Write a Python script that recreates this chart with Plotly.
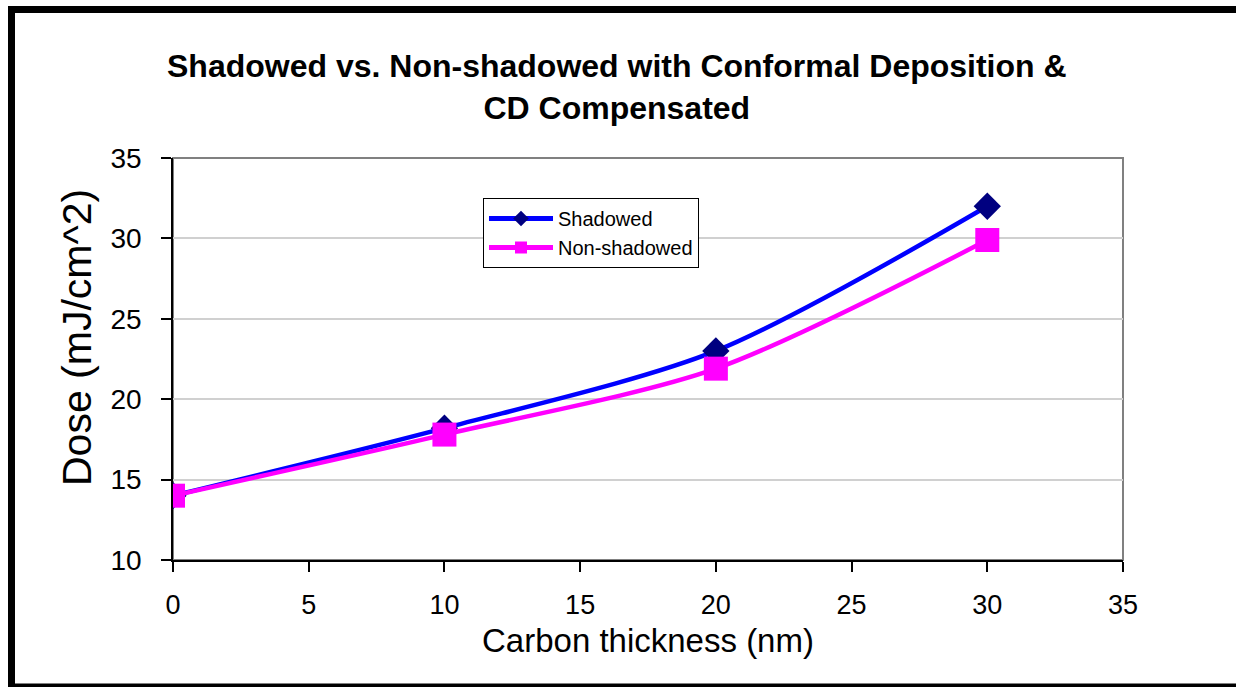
import plotly.graph_objects as go

# ---- data ----
thickness = [0, 10, 20, 30]
shadowed = [14.0, 18.2, 23.0, 32.0]
non_shadowed = [14.0, 17.8, 21.9, 29.9]
x_ticks = [0, 5, 10, 15, 20, 25, 30, 35]
y_ticks = [10, 15, 20, 25, 30, 35]

title_text = "Shadowed vs. Non-shadowed with Conformal Deposition &<br>CD Compensated"
x_title = "Carbon thickness (nm)"
y_title = "Dose (mJ/cm^2)"

W, H = 1236, 687
L, R, T, B = 173, 113, 158, 127
PW, PH = W - L - R, H - T - B
FONT = "Liberation Sans, Arial, Helvetica, sans-serif"


def px2x(px):
    return (px - L) / PW


def py2y(py):
    return (H - B - py) / PH


fig = go.Figure()
fig.add_trace(go.Scatter(
    x=thickness, y=shadowed, name="Shadowed", mode="lines+markers",
    line=dict(color="#0000FF", width=4.5, shape="spline", smoothing=0.8),
    marker=dict(symbol="diamond", size=21, color="#000080", line=dict(width=0)),
))
fig.add_trace(go.Scatter(
    x=thickness, y=non_shadowed, name="Non-shadowed", mode="lines+markers",
    line=dict(color="#FF00FF", width=4.5, shape="spline", smoothing=0.8),
    marker=dict(symbol="square", size=24, color="#FF00FF", line=dict(width=0)),
))

shapes = [
    # plot area border (gray)
    dict(type="rect", xref="paper", yref="paper", x0=0, x1=1, y0=0, y1=1,
         line=dict(color="#808080", width=2), layer="below"),
    # outer black frame
    dict(type="line", xref="paper", yref="paper", x0=px2x(11.5), x1=px2x(11.5),
         y0=py2y(6), y1=py2y(700), line=dict(color="black", width=7)),
    dict(type="line", xref="paper", yref="paper", x0=px2x(8), x1=px2x(1250),
         y0=py2y(9.5), y1=py2y(9.5), line=dict(color="black", width=7)),
    dict(type="line", xref="paper", yref="paper", x0=px2x(8), x1=px2x(1250),
         y0=py2y(687), y1=py2y(687), line=dict(color="black", width=7)),
]

annotations = [
    dict(text=title_text, xref="paper", yref="paper", x=px2x(617), y=py2y(46),
         xanchor="center", yanchor="top", showarrow=False,
         font=dict(family=FONT, size=32, color="black", weight="bold")),
    dict(text=x_title, xref="paper", yref="paper", x=px2x(648), y=py2y(640),
         xanchor="center", yanchor="middle", showarrow=False,
         font=dict(family=FONT, size=33, color="black")),
    dict(text=y_title, xref="paper", yref="paper", x=px2x(77), y=py2y(338),
         xanchor="center", yanchor="middle", showarrow=False, textangle=-90,
         font=dict(family=FONT, size=41, color="black")),
]

fig.update_layout(
    width=W, height=H,
    margin=dict(l=L, r=R, t=T, b=B, pad=0),
    paper_bgcolor="white", plot_bgcolor="white",
    font=dict(family=FONT, color="black"),
    showlegend=True,
    legend=dict(x=px2x(483), y=py2y(198), xanchor="left", yanchor="top",
                bgcolor="white", bordercolor="black", borderwidth=1,
                font=dict(family=FONT, size=20, color="black"),
                itemwidth=64, itemsizing="constant", tracegroupgap=0),
    shapes=shapes,
    annotations=annotations,
)
fig.update_xaxes(range=[0, 35], tickvals=x_ticks, ticktext=[str(v) for v in x_ticks],
                 showgrid=False, zeroline=False, showline=True, linecolor="black",
                 linewidth=1.5, ticks="outside", ticklen=10, tickcolor="black",
                 tickwidth=1.5, ticklabelstandoff=10,
                 tickfont=dict(family=FONT, size=27, color="black"))
fig.update_yaxes(range=[10, 35], tickvals=y_ticks, ticktext=[str(v) for v in y_ticks],
                 showgrid=True, gridcolor="#D0D0D0", gridwidth=1.5, zeroline=False,
                 showline=True, linecolor="black", linewidth=1.5, ticks="outside",
                 ticklen=10, tickcolor="black", tickwidth=1.5, ticklabelstandoff=14,
                 tickfont=dict(family=FONT, size=28, color="black"))

fig.write_html("out.html")
